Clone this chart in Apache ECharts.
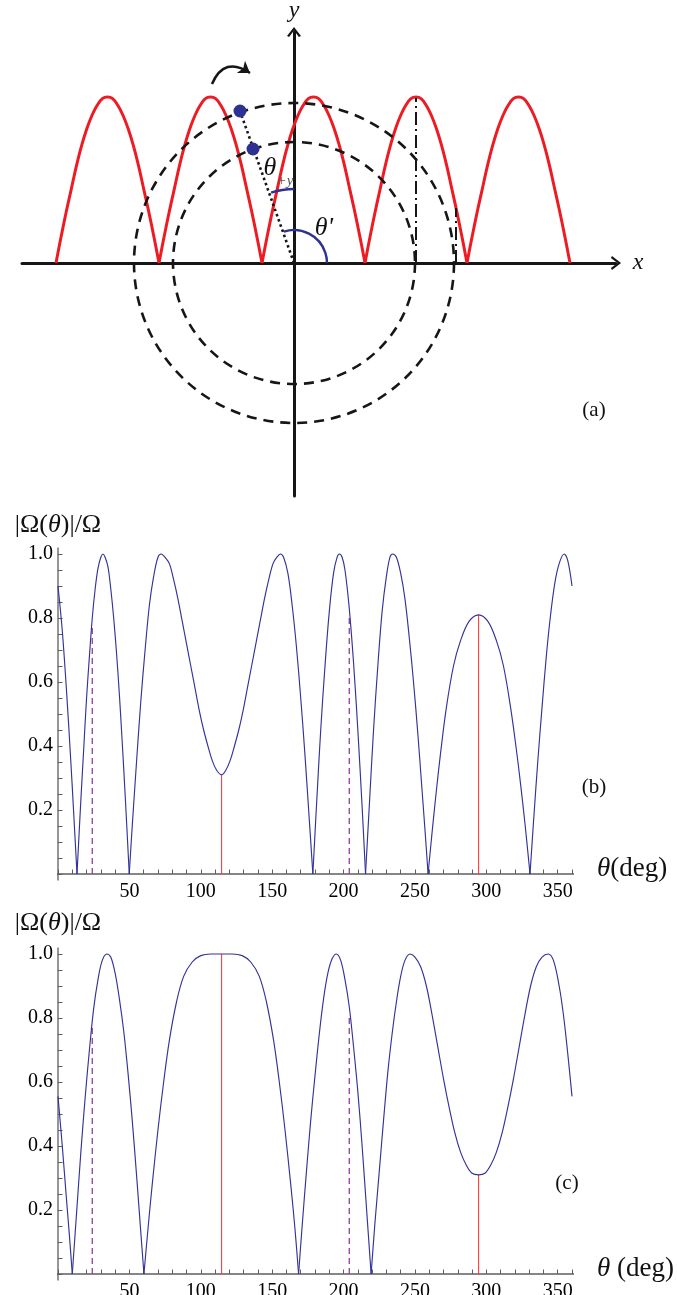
<!DOCTYPE html>
<html><head><meta charset="utf-8">
<script src="https://cdn.jsdelivr.net/npm/echarts@6.0.0/dist/echarts.min.js"></script>
<style>html,body{margin:0;padding:0;background:#fff}#c{width:677px;height:1295px}</style>
</head><body><div id="c"></div>
<script>
// ---------- panel (a): schematic (diagram units = px, origin at the axis crossing)
const archZeros = [-238, -135, -32, 71, 173, 276];
const archHeight = 166;
const archProfile = [0,0.16,0.31,0.45,0.59,0.71,0.81,0.89,0.95,0.99,1.0,0.99,0.95,0.89,0.81,0.71,0.59,0.45,0.31,0.16,0];
const circleRadii = [121, 160];
const dotPoints = [[-41,114],[-54,152]];
const rayLine = [[0,0],[-54,152]];
const angleArcs = [[33,0,108],[74,90,108]];          // radius, from deg, to deg
const dashDotLines = [[[122,0],[122,165]], [[162,0],[162,55]]];
const rotationArrow = [[-82,179],[-44,190]];

// ---------- panel (b): |Omega(theta)|/Omega vs theta (deg)
const bCurve = [[0,0.90],[3,0.76],[6,0.57],[9,0.35],[11,0.19],[13.3,0],
[16,0.23],[18,0.39],[20,0.55],[22,0.68],[24,0.80],[26,0.89],[28,0.955],[30,0.99],[31.5,1.0],
[33,0.99],[35,0.96],[37,0.89],[39,0.80],[41,0.69],[43,0.56],[45,0.41],[47,0.25],[49.9,0],
[52,0.15],[55,0.35],[58,0.54],[61,0.70],[64,0.84],[67,0.93],[70,0.99],[72.3,1.0],
[75,0.99],[78,0.97],[81,0.92],[84,0.86],[87,0.79],[90,0.72],[93,0.65],[96,0.58],[99,0.51],[102,0.45],[105,0.40],[108,0.355],[111,0.325],[114.6,0.31],
[117.6,0.325],[120.6,0.355],[123.6,0.40],[126.6,0.45],[129.6,0.51],[132.6,0.58],[135.6,0.65],[138.6,0.72],[141.6,0.79],[144.6,0.86],[147.6,0.92],[150.6,0.97],[153.3,0.99],[155.8,1.0],
[158,0.99],[161,0.94],[164,0.84],[167,0.71],[170,0.55],[173,0.37],[176,0.17],[178.5,0],
[181,0.21],[184,0.45],[187,0.65],[190,0.82],[193,0.94],[195.5,0.99],[197.2,1.0],
[199,0.99],[201,0.95],[204,0.83],[207,0.66],[210,0.45],[213,0.21],[215.4,0],
[218,0.21],[221,0.45],[224,0.65],[227,0.82],[230,0.93],[232.5,0.99],[234.4,1.0],
[237,0.99],[240,0.94],[243,0.86],[246,0.74],[249,0.60],[252,0.44],[255,0.26],[257,0.14],[259.2,0],
[262,0.13],[265,0.26],[268,0.38],[272,0.52],[277,0.65],[282,0.73],[288,0.79],[294.6,0.81],[301,0.79],[307,0.73],[312,0.65],[317,0.52],[321,0.39],[324,0.28],[327,0.16],[330.6,0],
[333,0.16],[336,0.35],[339,0.52],[342,0.68],[345,0.81],[348,0.91],[351,0.97],[354.5,1.0],[357,0.98],[360,0.90]];

// ---------- panel (c)
const cCurve = [[0,0.555],[3,0.40],[6,0.23],[8,0.12],[10,0],
[13,0.19],[16,0.38],[19,0.55],[22,0.70],[25,0.83],[28,0.92],[31,0.98],[34.2,1.0],
[37,0.99],[40,0.94],[43,0.86],[46,0.76],[49,0.63],[52,0.48],[55,0.31],[58,0.13],[60.2,0],
[63,0.14],[66,0.28],[70,0.45],[74,0.60],[78,0.73],[83,0.85],[88,0.93],[94,0.975],[100,0.995],[107,1.0],[114.6,1.0],[122,1.0],[129,0.995],[135,0.975],[141,0.93],[146,0.85],[151,0.73],[155,0.60],[159,0.45],[163,0.28],[166,0.14],[168.5,0],
[171,0.15],[174,0.32],[177,0.48],[180,0.62],[183,0.75],[186,0.86],[189,0.94],[192,0.985],[195,1.0],
[198,0.98],[201,0.92],[204,0.835],[207,0.71],[210,0.57],[213,0.40],[216,0.21],[219.3,0],
[222,0.16],[225,0.32],[228,0.48],[231,0.63],[234,0.75],[237,0.85],[240,0.93],[243,0.98],[246.5,1.0],
[250,0.99],[254,0.96],[258,0.90],[262,0.81],[266,0.71],[270,0.61],[274,0.52],[278,0.44],[282,0.38],[286,0.34],[290,0.315],[294.6,0.31],[299,0.315],[303,0.34],[307,0.38],[311,0.44],[315,0.52],[319,0.61],[323,0.71],[327,0.81],[331,0.90],[335,0.96],[339,0.99],[343.3,1.0],
[347,0.98],[351,0.90],[354,0.81],[357,0.69],[360,0.555]];

// vertical markers (deg) and the heights where they stop
const dashedMarks = [24, 204];
const redMarks = [114.6, 294.6];
const bDashedTop = [0.78, 0.81];
const bRedTop = [0.31, 0.81];
const cDashedTop = [0.78, 0.81];
const cRedTop = [1.0, 0.31];
const xTickLabels = [50, 100, 150, 200, 250, 300, 350];
const yTickLabels = [0.2, 0.4, 0.6, 0.8, 1.0];
const xExtent = [-7.5, 367.5];
const yExtent = [-0.02, 1.02];

// ---------- build
const SERIF = 'Liberation Serif';
const AX = '#5e5e5e';
const BLUE = '#333399';
const INK = '#161616';

// split a curve at its cusps (zero values) so each lobe is smoothed on its own
function splitLobes(curve) {
  const segs = []; let cur = [];
  curve.forEach(p => {
    cur.push(p);
    if (p[1] === 0 && cur.length > 1) { segs.push(cur); cur = [p]; }
  });
  if (cur.length > 1) segs.push(cur);
  return segs;
}

const arches = [];
for (let i = 0; i < archZeros.length - 1; i++) {
  const a = archZeros[i], b = archZeros[i + 1];
  arches.push(archProfile.map((v, k) => [a + (b - a) * k / (archProfile.length - 1), v * archHeight]));
}
const chevron = 'path://M0,13 L10,0 L20,13 L17,14.5 L10,5 L3,14.5 Z';

function plotAxes(gi) {
  return {
    x: {
      type: 'value', gridIndex: gi, min: 0, max: 360, interval: 10,
      axisLine: { show: false },
      axisTick: { show: true, inside: true, length: 4.5, lineStyle: { color: AX, width: 1 } },
      axisLabel: {
        show: true, margin: 8, color: '#000', fontFamily: SERIF, fontSize: 20,
        formatter: v => xTickLabels.indexOf(Math.round(v)) >= 0 ? String(Math.round(v)) : ''
      },
      splitLine: { show: false }
    },
    y: {
      type: 'value', gridIndex: gi, min: 0, max: 1, interval: 0.05,
      axisLine: { show: false },
      axisTick: { show: true, inside: true, length: 4.5, lineStyle: { color: AX, width: 1 } },
      axisLabel: {
        show: true, margin: 5, color: '#000', fontFamily: SERIF, fontSize: 20,
        formatter: v => {
          const hit = yTickLabels.find(t => Math.abs(t - v) < 1e-6);
          return hit !== undefined ? hit.toFixed(1) : '';
        }
      },
      splitLine: { show: false }
    }
  };
}
const pb = plotAxes(1), pc = plotAxes(2);

function plotSeries(gi, curve, dashedTop, redTop) {
  const s = [];
  const base = { xAxisIndex: gi, yAxisIndex: gi, type: 'line', symbol: 'none', silent: true, animation: false };
  s.push(Object.assign({}, base, { data: [[xExtent[0], 0], [xExtent[1], 0]], clip: false, lineStyle: { color: AX, width: 1.3 }, z: 1 }));
  s.push(Object.assign({}, base, { data: [[0, yExtent[0]], [0, yExtent[1]]], clip: false, lineStyle: { color: AX, width: 1.3 }, z: 1 }));
  redMarks.forEach((d, i) => s.push(Object.assign({}, base, { data: [[d, 0], [d, redTop[i]]], lineStyle: { color: '#ff2b2b', width: 1 }, z: 2 })));
  dashedMarks.forEach((d, i) => s.push(Object.assign({}, base, { data: [[d, 0], [d, dashedTop[i]]], lineStyle: { color: '#8e3f98', width: 1.3, type: [6, 4] }, z: 2 })));
  splitLobes(curve).forEach(seg => s.push(Object.assign({}, base, { data: seg, smooth: 0.35, clip: false, lineStyle: { color: BLUE, width: 1.15 }, z: 3 })));
  return s;
}

const series = [
  ...arches.map(a => ({ type: 'line', xAxisIndex: 0, yAxisIndex: 0, data: a, symbol: 'none', silent: true, smooth: 0.4,
    lineStyle: { color: '#ed1c24', width: 3 }, z: 3 })),
  { type: 'custom', xAxisIndex: 0, yAxisIndex: 0, coordinateSystem: 'cartesian2d', silent: true, z: 4,
    data: circleRadii.map(r => [r, 0]),
    renderItem: (p, api) => {
      const c = api.coord([0, 0]);
      const r = api.size([api.value(0), 0])[0];
      return { type: 'circle', shape: { cx: c[0], cy: c[1], r: r },
        style: { fill: 'none', stroke: INK, lineWidth: 2.6, lineDash: [10, 7] } };
    } },
  { type: 'custom', xAxisIndex: 0, yAxisIndex: 0, coordinateSystem: 'cartesian2d', silent: true, z: 5,
    data: angleArcs.map(a => [a[0], a[1], a[2]]),
    renderItem: (p, api) => {
      const c = api.coord([0, 0]);
      const r = api.size([api.value(0), 0])[0];
      const a0 = api.value(1) * Math.PI / 180, a1 = api.value(2) * Math.PI / 180;
      return { type: 'arc', shape: { cx: c[0], cy: c[1], r: r, startAngle: -a1, endAngle: -a0, clockwise: true },
        style: { fill: 'none', stroke: '#2e3192', lineWidth: 2.4 } };
    } },
  { type: 'line', xAxisIndex: 0, yAxisIndex: 0, data: rayLine, symbol: 'none', silent: true,
    lineStyle: { color: INK, width: 2.6, type: [2.5, 3] }, z: 5 },
  { type: 'scatter', xAxisIndex: 0, yAxisIndex: 0, data: dotPoints, symbolSize: 13, silent: true,
    itemStyle: { color: '#2e3192', opacity: 1 }, z: 6 },
  ...dashDotLines.map(d => ({ type: 'line', xAxisIndex: 0, yAxisIndex: 0, data: d, symbol: 'none', silent: true,
    lineStyle: { color: INK, width: 2, type: [13, 4, 2, 4] }, z: 4 })),
  { type: 'lines', coordinateSystem: 'cartesian2d', xAxisIndex: 0, yAxisIndex: 0, silent: true, z: 6,
    data: [{ coords: rotationArrow }], symbol: ['none', 'arrow'], symbolSize: 11,
    lineStyle: { color: INK, width: 2.6, curveness: 0.6, opacity: 1 } },
  ...plotSeries(1, bCurve, bDashedTop, bRedTop),
  ...plotSeries(2, cCurve, cDashedTop, cRedTop)
];

function txt(x, y, text, size, opts) {
  return Object.assign({ type: 'text', x: x, y: y, silent: true, z: 50,
    style: Object.assign({ text: text, fontFamily: SERIF, fontSize: size, fill: '#111', align: 'center', verticalAlign: 'middle' }, opts || {}) });
}
const rich = { i: { fontStyle: 'italic', fontFamily: SERIF, fontSize: 26, fill: '#111' } };
const richDeg = { i: { fontStyle: 'italic', fontFamily: SERIF, fontSize: 27, fill: '#111' } };

const option = {
  animation: false,
  backgroundColor: '#ffffff',
  grid: [
    { left: 22, top: 32, width: 594, height: 464, containLabel: false, outerBoundsMode: 'none' },
    { left: 58, top: 554, width: 514, height: 320, containLabel: false, outerBoundsMode: 'none' },
    { left: 58, top: 954, width: 514, height: 320, containLabel: false, outerBoundsMode: 'none' }
  ],
  xAxis: [
    { type: 'value', gridIndex: 0, min: -272, max: 322,
      axisLine: { show: true, onZero: true, symbol: ['none', chevron], symbolSize: [14, 14], lineStyle: { color: INK, width: 3 } },
      axisTick: { show: false }, axisLabel: { show: false }, splitLine: { show: false } },
    pb.x, pc.x
  ],
  yAxis: [
    { type: 'value', gridIndex: 0, min: -233, max: 231,
      axisLine: { show: true, onZero: true, symbol: ['none', chevron], symbolSize: [14, 14], lineStyle: { color: INK, width: 3 } },
      axisTick: { show: false }, axisLabel: { show: false }, splitLine: { show: false } },
    pb.y, pc.y
  ],
  series: series,
  graphic: [
    txt(294, 11, 'y', 24, { fontStyle: 'italic' }),
    txt(638, 263, 'x', 24, { fontStyle: 'italic' }),
    txt(270, 168, 'θ', 26, { fontStyle: 'italic' }),
    txt(285, 181, '+y', 15, { fontStyle: 'italic', fill: '#555' }),
    txt(324, 228, "θ'", 26, { fontStyle: 'italic' }),
    txt(594, 410, '(a)', 21),
    txt(58, 525, '|Ω({i|θ})|/Ω', 26, { rich: rich }),
    txt(597, 869, '{i|θ}(deg)', 27, { align: 'left', rich: richDeg }),
    txt(594, 787, '(b)', 21),
    txt(58, 923, '|Ω({i|θ})|/Ω', 26, { rich: rich }),
    txt(597, 1269, '{i|θ} (deg)', 27, { align: 'left', rich: richDeg }),
    txt(567, 1183, '(c)', 21)
  ]
};

const chart = echarts.init(document.getElementById('c'), null, { renderer: 'canvas', width: 677, height: 1295 });
chart.setOption(option);
</script>
</body></html>
